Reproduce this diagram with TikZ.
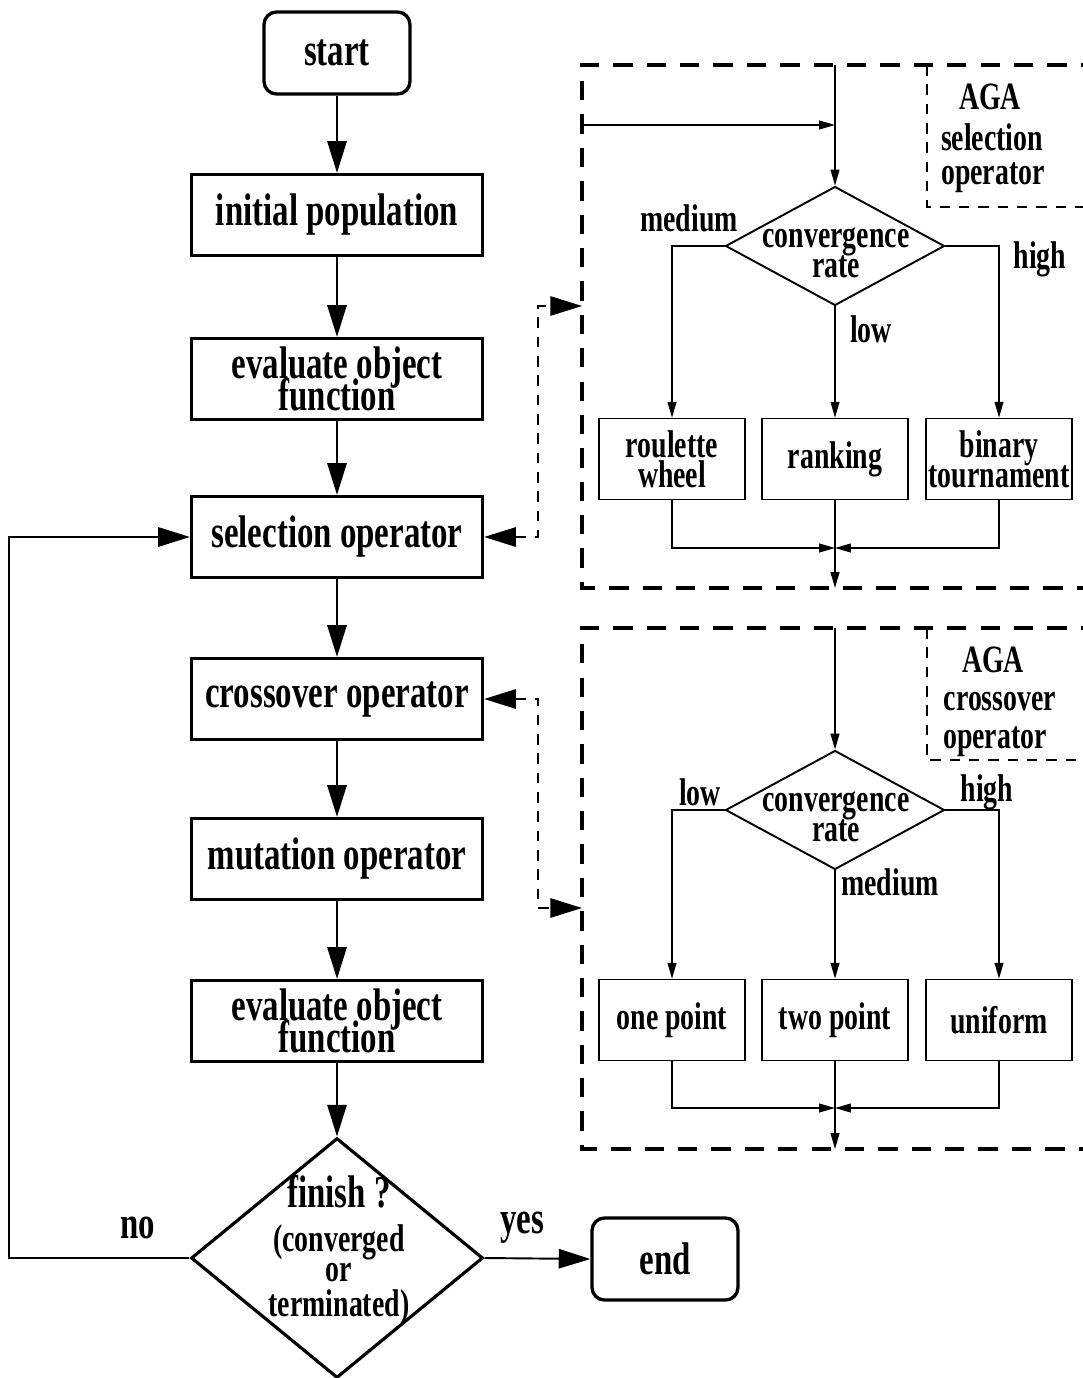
\documentclass[tikz,border=0pt]{standalone}
\usepackage{fontspec}
\setmainfont{Liberation Serif}[FakeStretch=0.72]
\usetikzlibrary{arrows.meta,shapes.geometric}
\newcommand\bigfnt{\bfseries\fontsize{26}{18}\selectfont\lineskiplimit=-40pt\relax}
\newcommand\smallfnt{\bfseries\fontsize{22}{17}\selectfont\lineskiplimit=-40pt\relax}
\begin{document}
\begin{tikzpicture}[x=0.02cm,y=-0.02cm,
  big/.style={font=\bigfnt},
  small/.style={font=\smallfnt},
  mainbox/.style={draw,line width=1.9pt,minimum width=5.82cm,minimum height=1.62cm,inner sep=0pt,big,align=center},
  termbox/.style={mainbox,rounded corners=0.25cm,minimum width=2.92cm,minimum height=1.64cm},
  subbox/.style={draw,line width=0.9pt,minimum width=2.92cm,minimum height=1.62cm,inner sep=0pt,small,align=center},
  subdiam/.style={draw,diamond,line width=1.1pt,minimum width=4.38cm,minimum height=2.38cm,inner sep=0pt},
  maindiam/.style={draw,diamond,line width=1.8pt,minimum width=5.84cm,minimum height=4.8cm,inner sep=0pt},
  tipbig/.tip={Triangle[length=18pt,width=11pt]},
  tipsmall/.tip={Triangle[length=9pt,width=5pt]},
  mainarrow/.style={line width=1.1pt,-tipbig},
  subarrow/.style={line width=0.8pt,-tipsmall},
  bigdash/.style={line width=2.3pt,dash pattern=on 11pt off 8pt},
  lbldash/.style={line width=0.9pt,dash pattern=on 6pt off 5pt},
  linkdash/.style={line width=1pt,dash pattern=on 6pt off 5pt},
  lbl/.style={small,inner sep=0pt,align=center},
  lblbig/.style={big,inner sep=0pt,align=center}
]
\useasboundingbox (0,0) rectangle (1082,1378);

% ---------- main column ----------
\node[termbox] (start) at (337,53) {start};
\node[mainbox] (init) at (337,215) {initial population};
\node[mainbox] (eval1) at (337,379) {evaluate object\\function};
\node[mainbox] (sel) at (337,537) {selection operator};
\node[mainbox] (cro) at (337,699) {crossover operator};
\node[mainbox] (mut) at (337,859) {mutation operator};
\node[mainbox] (eval2) at (337,1021) {evaluate object\\function};
\node[maindiam] (fin) at (337,1258) {};
\node[lbl] (ftxt) at (339,1250) {{\bigfnt finish ?}\\[8pt](converged\\or\\[3pt]terminated)};
\node[termbox] (end) at (665,1259) {end};
\node[lblbig] (no) at (138,1228) {no};
\node[lblbig] (yes) at (522,1228) {yes};

\draw[mainarrow] (start) -- (init);
\draw[mainarrow] (init) -- (eval1);
\draw[mainarrow] (eval1) -- (sel);
\draw[mainarrow] (sel) -- (cro);
\draw[mainarrow] (cro) -- (mut);
\draw[mainarrow] (mut) -- (eval2);
\draw[mainarrow] (eval2) -- (fin.north);
\draw[mainarrow] (fin.east) -- (end.west);
\draw[mainarrow] (fin.west) -- ++(-180,0) |- (sel.west);

% ---------- panel 1: selection ----------
\draw[bigdash] (1100,65) -| (582,588) -- (1100,588);
\draw[lbldash] (927,65) |- (1100,207);
\node[lbl] (aga1) at (990,97) {AGA};
\node[lbl] (sel1) at (992,137) {selection};
\node[lbl] (op1) at (993,178) {operator};

\coordinate (p1top) at (835,65);
\coordinate (p1left) at (582,125);
\coordinate (p1join) at (835,125);
\coordinate (p1in) at (582,306);
\coordinate (m1) at (835,548);
\coordinate (p1bot) at (835,588);

\node[subdiam] (d1) at (835,246) {};
\node[lbl] (d1t) at (836,253) {convergence\\rate};
\node[subbox] (rw) at (672,459) {roulette\\wheel};
\node[subbox] (rk) at (835,459) {ranking};
\node[subbox] (bt) at (999,459) {binary\\tournament};
\node[lbl] (med1) at (689,218) {medium};
\node[lbl] (high1) at (1040,259) {high};
\node[lbl] (low1) at (871,329) {low};

\draw[subarrow] (p1top) -- (d1.north);
\draw[subarrow] (p1left) -- (p1join);
\draw[subarrow] (d1.west) -| (rw.north);
\draw[subarrow] (d1.east) -| (bt.north);
\draw[subarrow] (d1.south) -- (rk.north);
\draw[subarrow] (rw.south) |- (m1);
\draw[subarrow] (bt.south) |- (m1);
\draw[subarrow] (rk.south) -- (p1bot);

\draw[linkdash,tipbig-tipbig] (sel.east) -- ++(54,0) |- (p1in);

% ---------- panel 2: crossover ----------
\draw[bigdash] (1100,628) -| (582,1149) -- (1100,1149);
\draw[lbldash] (927,628) |- (1100,760);
\node[lbl] (aga2) at (993,660) {AGA};
\node[lbl] (cro2) at (1000,702) {crossover};
\node[lbl] (op2) at (995,742) {operator};

\coordinate (p2top) at (835,628);
\coordinate (p2in) at (582,908);
\coordinate (m2) at (835,1108);
\coordinate (p2bot) at (835,1149);

\node[subdiam] (d2) at (835,810) {};
\node[lbl] (d2t) at (836,817) {convergence\\rate};
\node[subbox] (op) at (672,1020) {one point};
\node[subbox] (tp) at (835,1020) {two point};
\node[subbox] (un) at (999,1020) {uniform};
\node[lbl] (low2) at (700,792) {low};
\node[lbl] (high2) at (987,792) {high};
\node[lbl] (med2) at (890,882) {medium};

\draw[subarrow] (p2top) -- (d2.north);
\draw[subarrow] (d2.west) -| (op.north);
\draw[subarrow] (d2.east) -| (un.north);
\draw[subarrow] (d2.south) -- (tp.north);
\draw[subarrow] (op.south) |- (m2);
\draw[subarrow] (un.south) |- (m2);
\draw[subarrow] (tp.south) -- (p2bot);

\draw[linkdash,tipbig-tipbig] (cro.east) -- ++(54,0) |- (p2in);
\end{tikzpicture}
\end{document}
